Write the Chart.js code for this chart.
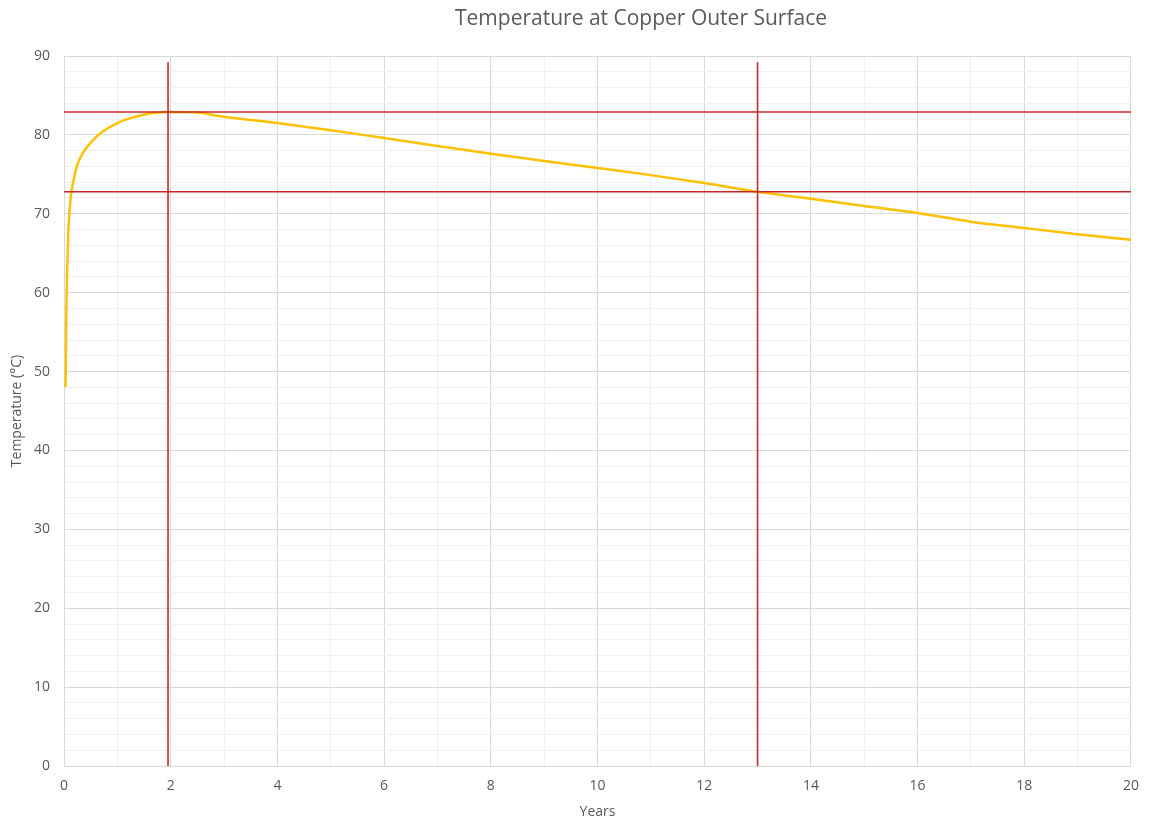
<!DOCTYPE html>
<html>
<head>
<meta charset="utf-8">
<script src="https://cdn.jsdelivr.net/npm/chart.js@4/dist/chart.umd.min.js"></script>
<style>
  html, body { margin: 0; padding: 0; background: #ffffff; }
  #wrap { width: 1151px; height: 820px; position: relative; }
</style>
</head>
<body>
<div id="wrap"><canvas id="chart" width="1151" height="820"></canvas></div>
<script>
// ---- data ----
const TITLE = 'Temperature at Copper Outer Surface';
const X_LABEL = 'Years';
const Y_LABEL = 'Temperature (°C)';

const years = [0.03, 0.035, 0.045, 0.06, 0.08, 0.1, 0.14, 0.17, 0.24, 0.32, 0.39, 0.45, 0.58, 0.7, 0.86, 1.0, 1.14, 1.45, 1.7, 2.0, 2.5, 2.9, 3.0, 4, 5, 6, 7, 8, 9, 10, 11, 12, 13, 14, 15, 16, 17, 18, 19, 20];
const temps = [48, 52, 58, 63, 67.5, 70, 72.8, 73.9, 76, 77.3, 78.1, 78.6, 79.6, 80.3, 81.0, 81.5, 81.9, 82.5, 82.8, 82.9, 82.85, 82.4, 82.3, 81.5, 80.6, 79.6, 78.6, 77.6, 76.7, 75.8, 74.9, 73.9, 72.8, 71.9, 71.0, 70.1, 69.0, 68.2, 67.4, 66.7];

// red reference lines
const refYears = [1.95, 13];
const refTemps = [82.9, 72.8];
const refTop = 89.2;

const X_MIN = 0, X_MAX = 20, X_MAJOR = 2;
const Y_MIN = 0, Y_MAX = 90, Y_MAJOR = 10;

const TEXT = '#595959';
const GRID_MAJOR = '#d9d9d9';
const GRID_MINOR = '#f0f0f0';
const RED = '#c62828';
const GOLD = '#ffc000';
const FONT = 'Open Sans, sans-serif';

const curve = years.map((x, i) => ({ x, y: temps[i] }));
const refSets = [];
refYears.forEach(x => refSets.push({ data: [{ x, y: Y_MIN }, { x, y: refTop }] }));
refTemps.forEach(y => refSets.push({ data: [{ x: X_MIN, y }, { x: X_MAX, y }] }));

const isMajor = (v, step) => Math.abs(v / step - Math.round(v / step)) < 1e-6;

const titlePlugin = {
  id: 'excelTitle',
  afterDraw(chart) {
    const ctx = chart.ctx;
    ctx.save();
    ctx.font = '21px ' + FONT;
    ctx.fillStyle = TEXT;
    ctx.textAlign = 'center';
    ctx.textBaseline = 'middle';
    ctx.fillText(TITLE, 641, 19);
    ctx.restore();
  }
};

new Chart(document.getElementById('chart'), {
  type: 'line',
  data: {
    datasets: [
      ...refSets.map(s => ({
        data: s.data,
        borderColor: RED,
        borderWidth: 1.6,
        pointRadius: 0,
        fill: false,
        tension: 0,
      })),
      {
        data: curve,
        borderColor: GOLD,
        borderWidth: 2.5,
        pointRadius: 0,
        fill: false,
        cubicInterpolationMode: 'monotone',
      }
    ]
  },
  options: {
    responsive: false,
    animation: false,
    layout: { padding: { top: 56, right: 15, left: 0, bottom: 0 } },
    plugins: {
      legend: { display: false },
      tooltip: { enabled: false },
      title: { display: false },
    },
    scales: {
      x: {
        type: 'linear',
        min: X_MIN, max: X_MAX,
        afterFit: s => { s.height = 54; },
        grid: {
          drawTicks: false,
          color: c => isMajor(c.tick.value, X_MAJOR) ? GRID_MAJOR : GRID_MINOR,
        },
        border: { color: GRID_MAJOR },
        ticks: {
          stepSize: 1,
          autoSkip: false,
          maxRotation: 0,
          padding: 12,
          color: TEXT,
          font: { family: FONT, size: 14 },
          callback: v => isMajor(v, X_MAJOR) ? v : '',
        },
        title: {
          display: true,
          text: X_LABEL,
          color: TEXT,
          font: { family: FONT, size: 14 },
          padding: { top: 4, bottom: 0 },
        }
      },
      y: {
        type: 'linear',
        min: Y_MIN, max: Y_MAX,
        afterFit: s => { s.width = 64; },
        grid: {
          drawTicks: false,
          color: c => isMajor(c.tick.value, Y_MAJOR) ? GRID_MAJOR : GRID_MINOR,
        },
        border: { color: GRID_MAJOR },
        ticks: {
          stepSize: 2,
          autoSkip: false,
          padding: 14,
          color: TEXT,
          font: { family: FONT, size: 14 },
          callback: v => isMajor(v, Y_MAJOR) ? v : '',
        },
        title: {
          display: true,
          text: Y_LABEL,
          color: TEXT,
          font: { family: FONT, size: 14 },
          padding: { top: 9, bottom: 0 },
        }
      }
    }
  },
  plugins: [titlePlugin]
});
</script>
</body>
</html>
